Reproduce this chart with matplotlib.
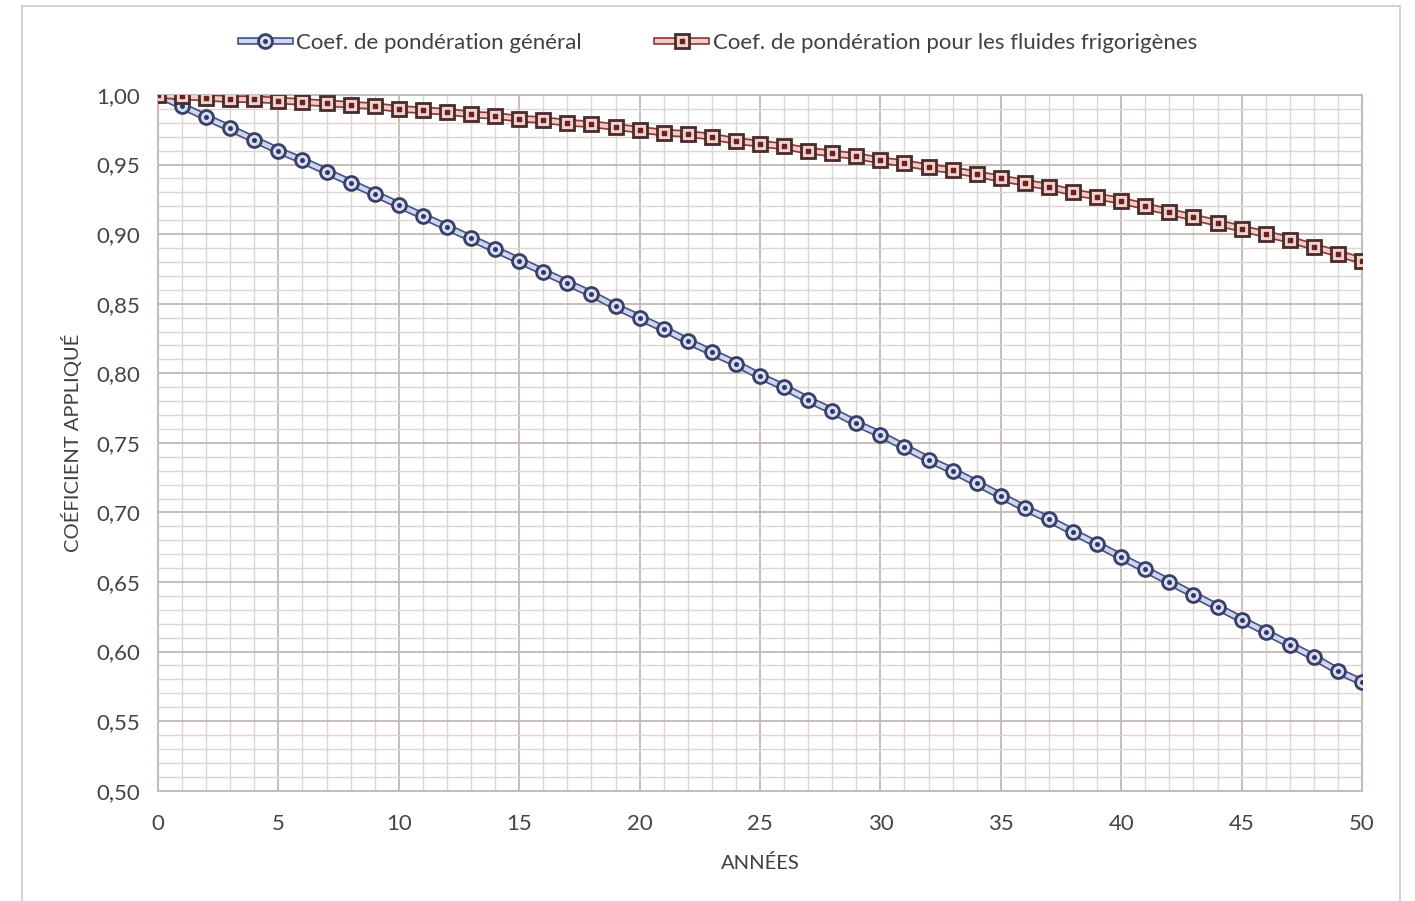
import matplotlib
matplotlib.use("Agg")
import matplotlib.pyplot as plt
import matplotlib.patheffects as pe
from matplotlib.lines import Line2D
from matplotlib.legend_handler import HandlerTuple
from matplotlib.patches import Rectangle
from matplotlib.ticker import MultipleLocator, FuncFormatter

plt.rcParams['font.family'] = ['Lato', 'DejaVu Sans']

# données
annees = list(range(0, 51))
coef_general = [1.000, 0.992, 0.984, 0.976, 0.968, 0.960, 0.953, 0.945, 0.937, 0.929,
                0.921, 0.913, 0.905, 0.897, 0.889, 0.881, 0.873, 0.865, 0.857, 0.848,
                0.840, 0.832, 0.823, 0.815, 0.807, 0.798, 0.790, 0.781, 0.773, 0.764,
                0.756, 0.747, 0.738, 0.730, 0.721, 0.712, 0.703, 0.695, 0.686, 0.677,
                0.668, 0.659, 0.650, 0.641, 0.632, 0.623, 0.614, 0.605, 0.596, 0.586,
                0.578]
coef_frigo = [1.000, 0.999, 0.998, 0.997, 0.997, 0.996, 0.995, 0.994, 0.993, 0.992,
              0.990, 0.989, 0.988, 0.986, 0.985, 0.983, 0.982, 0.980, 0.979, 0.977,
              0.975, 0.973, 0.972, 0.970, 0.967, 0.965, 0.963, 0.960, 0.958, 0.956,
              0.953, 0.951, 0.948, 0.946, 0.943, 0.940, 0.937, 0.934, 0.930, 0.927,
              0.924, 0.920, 0.916, 0.912, 0.908, 0.904, 0.900, 0.896, 0.891, 0.886,
              0.881]
noms = ["Coef. de pondération général", "Coef. de pondération pour les fluides frigorigènes"]

W, H = 1415, 901
fig = plt.figure(figsize=(W / 100, H / 100), dpi=100)
fig.patches.append(Rectangle((22 / W, -0.01), (1400 - 22) / W, 1 - 6 / H + 0.01,
                             transform=fig.transFigure, fill=False,
                             edgecolor='#d4d4d4', linewidth=1.5))
ax = fig.add_axes([158 / W, 1 - 790.7 / H, (1362 - 158) / W, (790.7 - 95) / H])

grid_major = '#c3b8b3'
grid_minor = '#ddd6d2'
ax.set_xlim(0, 50)
ax.set_ylim(0.5, 1.0)
ax.xaxis.set_major_locator(MultipleLocator(5))
ax.xaxis.set_minor_locator(MultipleLocator(1))
ax.yaxis.set_major_locator(MultipleLocator(0.05))
ax.yaxis.set_minor_locator(MultipleLocator(0.01))
ax.grid(which='major', color=grid_major, linewidth=1.3)
ax.grid(which='minor', color=grid_minor, linewidth=1.0)
ax.set_axisbelow(True)
for s in ax.spines.values():
    s.set_color(grid_major)
    s.set_linewidth(1.3)
ax.tick_params(which='both', length=0, labelsize=16, colors='#444444')
ax.tick_params(axis='x', pad=17)
ax.tick_params(axis='y', pad=13)
ax.yaxis.set_major_formatter(FuncFormatter(lambda v, p: f"{v:.2f}".replace('.', ',')))

styles = [
    dict(edge='#4b5487', inner='#cdd8f0', mk='o', mface='#d6ddf2', medge='#3b3e66', dot='#2e3560'),
    dict(edge='#8e3b3b', inner='#f4ccc5', mk='s', mface='#efd2cc', medge='#4a2a2a', dot='#6e1f1f'),
]
handles = []
for y, st in zip([coef_general, coef_frigo], styles):
    effects = [pe.Stroke(linewidth=5.5, foreground=st['edge']), pe.Normal()]
    ln, = ax.plot(annees, y, color=st['inner'], linewidth=3, path_effects=effects,
                  solid_capstyle='butt', zorder=3)
    mk, = ax.plot(annees, y, linestyle='none', marker=st['mk'], markersize=10,
                  markerfacecolor=st['mface'], markeredgecolor=st['medge'],
                  markeredgewidth=2, zorder=4)
    dt, = ax.plot(annees, y, linestyle='none', marker=st['mk'], markersize=2.5,
                  color=st['dot'], zorder=5)
    h_line = Line2D([], [], color=st['inner'], linewidth=3, path_effects=effects)
    handles.append((h_line, mk, dt))

fig.legend(handles, noms, loc='center', bbox_to_anchor=(719 / W, 1 - 43 / H), ncol=2,
           frameon=False, fontsize=16, labelcolor='#404040', handlelength=2.2,
           columnspacing=3.4, handletextpad=0.3, numpoints=1,
           handler_map={tuple: HandlerTuple(ndivide=1, pad=0)})

ax.set_xlabel("ANNÉES", fontsize=14.5, color='#404040', labelpad=14)
ax.set_ylabel("COÉFICIENT APPLIQUÉ", fontsize=14.5, color='#404040', labelpad=10)

fig.savefig("out.png", dpi=100, facecolor='white')
